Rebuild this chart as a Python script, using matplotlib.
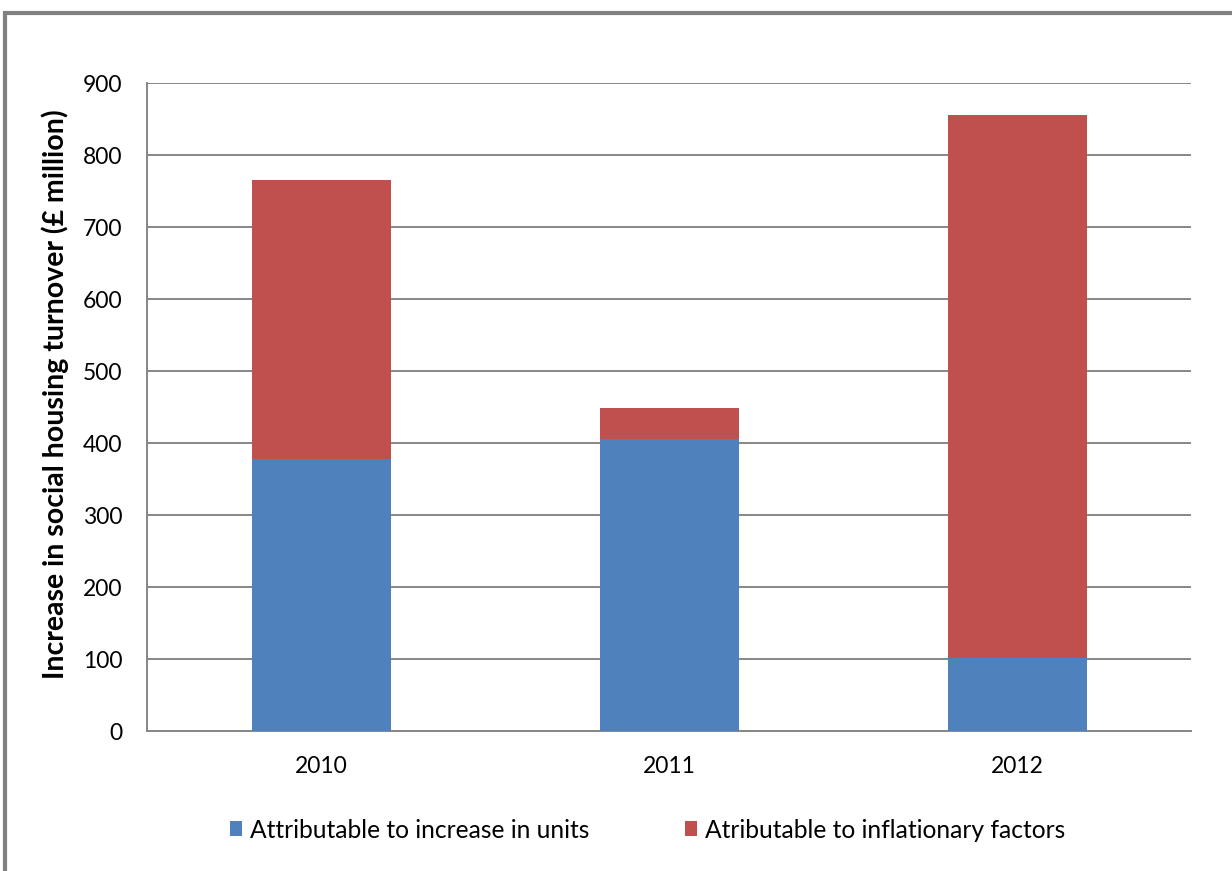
import matplotlib.pyplot as plt
from matplotlib.patches import Rectangle
import numpy as np

# Data
years = ["2010", "2011", "2012"]
units = [378, 406, 101]        # attributable to increase in units
inflation = [387, 42, 755]     # attributable to inflationary factors
y_ticks = [0, 100, 200, 300, 400, 500, 600, 700, 800, 900]

BLUE = "#4f81bd"
RED = "#c0504d"
GRID = "#868686"

plt.rcParams["font.family"] = ["Lato", "DejaVu Sans"]

fig = plt.figure(figsize=(12.32, 8.71), dpi=100)
ax = fig.add_axes([0.1197, 0.1607, 0.8474, 0.744])

x = np.arange(len(years))
ax.bar(x, units, width=0.4, color=BLUE, label="Attributable to increase in units", zorder=3)
ax.bar(x, inflation, width=0.4, bottom=units, color=RED,
       label="Atributable to inflationary factors", zorder=3)

ax.set_xlim(-0.5, len(years) - 0.5)
ax.set_ylim(0, 900)
ax.set_yticks(y_ticks)
ax.set_xticks(x)
ax.set_xticklabels(years)
ax.tick_params(axis="both", labelsize=16.5, colors="black")
ax.tick_params(axis="y", length=0, pad=18)
ax.tick_params(axis="x", length=0, pad=18)

ax.yaxis.grid(True, color=GRID, linewidth=1.4, zorder=0)
for side in ["top", "right"]:
    ax.spines[side].set_visible(False)
for side in ["left", "bottom"]:
    ax.spines[side].set_color(GRID)
    ax.spines[side].set_linewidth(1.4)

ax.set_ylabel("Increase in social housing turnover (£ million)",
              fontsize=20.5, fontweight="bold")
ax.yaxis.set_label_coords(-0.075, 0.52)

fig.legend(loc="center", bbox_to_anchor=(0.5256, 0.047), ncol=2, frameon=False,
           fontsize=17.7, handlelength=0.5, handleheight=0.55, handletextpad=0.3,
           columnspacing=3.9)

# outer chart border (only top and left visible in the crop)
fig.patches.append(Rectangle((5 / 1232, -0.1), 1.2, 1 - 13 / 871 + 0.1,
                             transform=fig.transFigure, fill=False,
                             edgecolor="#808080", linewidth=3))

fig.savefig("out.png", dpi=100)
